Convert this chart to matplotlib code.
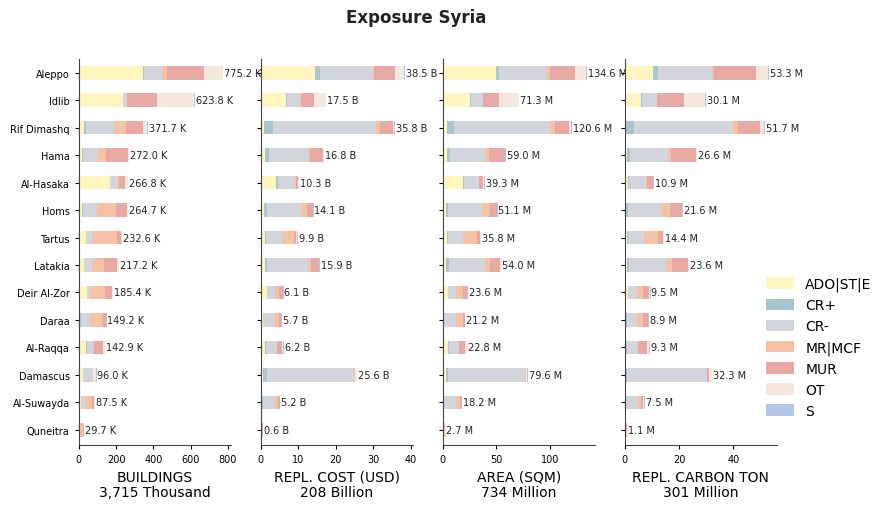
import matplotlib
matplotlib.use("Agg")
import matplotlib.pyplot as plt
import numpy as np
from matplotlib.patches import Patch

regions = ["Aleppo", "Idlib", "Rif Dimashq", "Hama", "Al-Hasaka", "Homs", "Tartus",
           "Latakia", "Deir Al-Zor", "Daraa", "Al-Raqqa", "Damascus", "Al-Suwayda", "Quneitra"]
categories = ["ADO|ST|E", "CR+", "CR-", "MR|MCF", "MUR", "OT", "S"]
colors = ["#fff5bf", "#a9c6d0", "#d2d5dc", "#f5c2a5", "#e8a9a4", "#f3e8de", "#b3c6e6"]

# Buildings (thousand) per region: ADO, CR+, CR-, MR, MUR, OT, S
buildings = [
    [346, 3, 98, 27, 199, 98, 4.2],
    [237, 1, 21, 2, 156, 203, 3.8],
    [27, 11, 151.7, 66, 91, 20, 5],
    [18, 5, 79, 43, 121, 5, 1],
    [167.8, 1, 38, 11, 32, 16, 1],
    [18, 5, 74, 103, 58, 5.7, 1],
    [38, 1, 32, 136.6, 20, 4, 1],
    [27, 2, 42.2, 64, 72, 9, 1],
    [43, 4, 12, 84.4, 36, 5, 1],
    [9, 1, 48.2, 68, 21, 1, 1],
    [38, 5, 36, 2, 49.9, 11, 1],
    [21, 1, 55, 1, 1, 16, 1],
    [11, 1, 23, 37.5, 11, 3, 1],
    [1, 0, 1, 23, 4, 0.7, 0],
]
# Replacement cost (billion USD)
repl_cost = [
    [14.4, 1.26, 14.24, 0.2, 5.7, 2.3, 0.4],
    [6.7, 0.2, 3.6, 0.1, 3.5, 3.2, 0.2],
    [0.9, 2.4, 27.4, 1.1, 3.3, 0.45, 0.25],
    [1.2, 1.1, 10.3, 0.5, 3.5, 0.2, 0.0],
    [4.1, 0.45, 4.55, 0.2, 0.6, 0.2, 0.2],
    [0.9, 0.8, 8.9, 1.6, 1.6, 0.1, 0.2],
    [1.2, 0.2, 4.3, 3.2, 0.6, 0.2, 0.2],
    [1.1, 0.5, 10.9, 0.8, 2.2, 0.1, 0.3],
    [1.7, 0.1, 1.9, 1.3, 0.9, 0.1, 0.1],
    [0.55, 0.1, 3.0, 1.25, 0.5, 0.05, 0.25],
    [1.1, 0.3, 2.9, 0.1, 1.35, 0.25, 0.2],
    [0.55, 1.0, 23.2, 0.25, 0.1, 0.5, 0.0],
    [0.35, 0.2, 3.3, 0.7, 0.6, 0.05, 0.0],
    [0.0, 0.0, 0.05, 0.05, 0.5, 0.0, 0.0],
]
# Area (million sqm)
area = [
    [49.6, 2.8, 44.5, 2.8, 22.9, 10.5, 1.5],
    [25.4, 0.6, 11.5, 0.3, 14.9, 18.0, 0.6],
    [4.0, 6.5, 89.1, 4.6, 13.3, 2.2, 0.9],
    [4.0, 2.5, 32.8, 3.7, 14.8, 0.3, 0.9],
    [18.9, 0.6, 14.1, 0.6, 3.7, 0.5, 0.9],
    [3.1, 1.9, 31.1, 8.0, 6.5, 0.3, 0.2],
    [4.0, 0.5, 14.6, 13.2, 2.8, 0.5, 0.2],
    [3.1, 2.8, 33.5, 4.6, 9.3, 0.5, 0.2],
    [5.0, 0.3, 7.4, 6.5, 3.4, 0.3, 0.7],
    [1.2, 0.3, 11.0, 6.2, 1.9, 0.3, 0.3],
    [5.0, 0.6, 9.2, 0.3, 5.6, 1.9, 0.2],
    [3.1, 1.9, 71.3, 0.9, 0.6, 0.9, 0.9],
    [0.9, 0.5, 11.0, 3.4, 1.9, 0.3, 0.2],
    [0.1, 0.0, 0.2, 1.6, 0.7, 0.1, 0.0],
]
# Replacement carbon (million ton)
carbon = [
    [10.4, 1.8, 20.0, 0.7, 15.4, 4.3, 0.7],
    [6.0, 0.25, 5.6, 0.1, 9.9, 7.9, 0.35],
    [0.5, 2.9, 36.65, 1.7, 8.1, 1.5, 0.35],
    [0.85, 1.1, 14.15, 1.0, 9.3, 0.1, 0.1],
    [1.2, 0.2, 6.4, 0.25, 2.2, 0.3, 0.35],
    [0.5, 0.7, 12.25, 3.3, 4.4, 0.1, 0.35],
    [0.85, 0.2, 6.15, 5.1, 1.8, 0.2, 0.1],
    [0.7, 0.85, 13.7, 2.0, 5.9, 0.35, 0.1],
    [1.2, 0.1, 3.15, 2.4, 2.2, 0.35, 0.1],
    [0.5, 0.2, 3.8, 2.4, 1.5, 0.1, 0.4],
    [0.5, 0.35, 4.1, 0.1, 3.3, 0.6, 0.35],
    [0.1, 0.85, 29.3, 0.2, 0.6, 1.2, 0.05],
    [0.1, 0.5, 4.3, 1.1, 0.85, 0.2, 0.45],
    [0.05, 0.0, 0.1, 0.7, 0.15, 0.1, 0.0],
]

panels = [
    (buildings, "K", "BUILDINGS\n3,715 Thousand", [0, 200, 400, 600, 800]),
    (repl_cost, "B", "REPL. COST (USD)\n208 Billion", [0, 10, 20, 30, 40]),
    (area, "M", "AREA (SQM)\n734 Million", [0, 50, 100]),
    (carbon, "M", "REPL. CARBON TON\n301 Million", [0, 20, 40]),
]

fig = plt.figure(figsize=(8.87, 5.10), dpi=100)
lefts = [0.0887, 0.2939, 0.4991, 0.7043]
bottom, height, width = 0.1255, 0.757, 0.1713
y = np.arange(len(regions))

for i, (data, unit, xlabel, ticks) in enumerate(panels):
    ax = fig.add_axes([lefts[i], bottom, width, height])
    arr = np.array(data, dtype=float)
    left = np.zeros(len(regions))
    for j, cat in enumerate(categories):
        ax.barh(y, arr[:, j], left=left, height=0.5, color=colors[j], label=cat)
        left += arr[:, j]
    totals = arr.sum(axis=1)
    xmax = totals.max() * 1.05
    ax.set_xlim(0, xmax)
    for k, t in enumerate(totals):
        ax.text(t + xmax * 0.005, y[k], f"{t:.1f} {unit}", va="center", ha="left",
                fontsize=7, color="#222222")
    ax.set_yticks(y)
    if i == 0:
        ax.set_yticklabels(regions, fontsize=7)
    else:
        ax.set_yticklabels([])
    ax.set_ylim(len(regions) - 0.45, -0.5)
    ax.set_xticks(ticks)
    ax.tick_params(axis="x", labelsize=7, length=3)
    ax.tick_params(axis="y", length=3)
    ax.set_xlabel(xlabel, fontsize=10, labelpad=4, linespacing=1.1)
    ax.spines["top"].set_visible(False)
    ax.spines["right"].set_visible(False)
    for s in ("left", "bottom"):
        ax.spines[s].set_color("#444444")

handles = [Patch(facecolor=c, label=l) for c, l in zip(colors, categories)]
fig.legend(handles=handles, loc="upper left", bbox_to_anchor=(0.8576, 0.466),
           frameon=False, fontsize=10, handlelength=2.0, handleheight=0.9,
           labelspacing=0.5, handletextpad=0.8, borderaxespad=0)

fig.text(0.469, 0.965, "Exposure Syria", ha="center", va="center",
         fontsize=12, fontweight="bold", color="#222222")

fig.savefig("out.png", dpi=100)
